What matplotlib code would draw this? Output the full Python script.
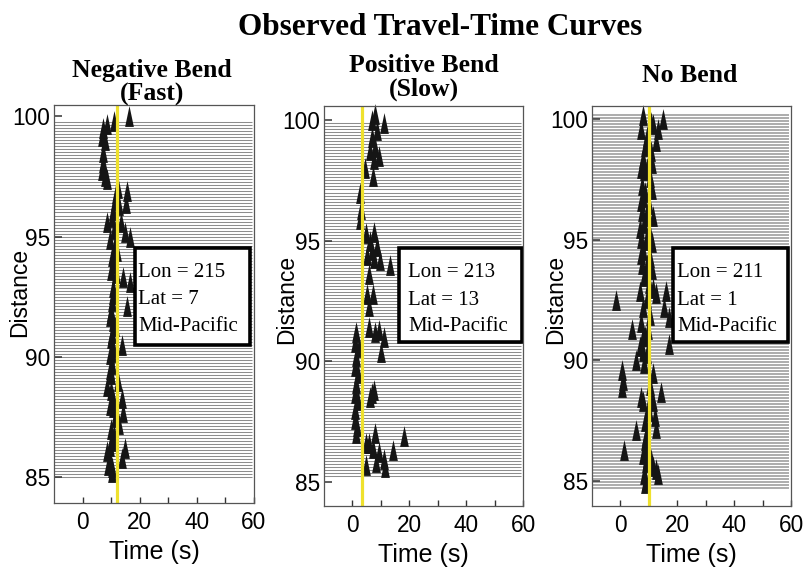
import numpy as np
import matplotlib
matplotlib.use("Agg")
import matplotlib.pyplot as plt
from matplotlib.patches import Rectangle

# ---- data -------------------------------------------------------------
panel_titles = ["Negative Bend\n(Fast)", "Positive Bend\n(Slow)", "No Bend"]
lons = [215, 213, 211]
lats = [7, 13, 1]
region = "Mid-Pacific"
ref_times = [12.0, 3.5, 10.0]          # predicted arrival (yellow line), s

# trace distance ranges (deg) and spacing
trace_lo = [85.0, 85.25, 84.7]
trace_hi = [99.8, 99.9, 100.3]
trace_step = 0.125

# observed picks: (time s, distance deg)
fast_t = [7.3, 8.5, 11.1, 16.4, 6.7, 7.9, 7.3, 6.7, 7.9, 8.5, 7.3, 12.3, 15.4, 15.1,
          11.4, 12.9, 10.8, 8.5, 10.2, 13.5, 14.9, 16.6, 9.6, 11.4, 10.2, 14.3, 16.6,
          10.8, 9.9, 15.4, 10.2, 9.6, 11.4, 10.2, 13.7, 9.6, 10.8, 10.2, 8.5, 13.7,
          10.8, 9.6, 11.4, 14.3, 12.6, 10.0, 8.5, 9.6, 14.9, 13.7, 10.2, 9.0, 10.8,
          12.3, 11.0, 10.5, 9.8, 10.6, 9.9, 10.4, 9.7, 10.1, 10.6, 9.8, 10.4, 9.7,
          10.3, 11.8, 11.0, 12.2, 10.9, 11.6]
fast_d = [99.5, 99.7, 99.8, 100.0, 99.2, 99.0, 98.5, 97.75, 97.5, 97.4, 98.1, 97.0,
          96.9, 96.4, 96.5, 96.3, 96.1, 95.6, 95.8, 95.6, 95.2, 95.0, 94.9, 94.7, 94.2,
          93.3, 93.1, 92.9, 93.6, 92.1, 92.3, 91.7, 91.3, 91.0, 90.5, 90.1, 90.4, 89.7,
          88.8, 88.3, 88.3, 88.0, 87.5, 87.7, 87.2, 89.3, 86.1, 85.7, 86.2, 85.8, 85.4,
          85.5, 86.5, 89.0, 86.8, 92.6, 91.9, 91.5, 90.8, 90.2, 89.5, 88.6, 87.9, 87.0,
          86.6, 86.3, 85.2, 96.8, 95.3, 94.4, 93.9, 93.5]

slow_t = [8.1, 11.0, 7.0, 8.7, 6.9, 8.1, 6.3, 9.2, 7.6, 7.1, 4.3, 2.6, 3.0, 2.6, 4.6,
          7.5, 6.3, 8.7, 6.9, 9.8, 13.1, 5.1, 7.5, 5.7, 7.3, 5.1, 5.7, 5.7, 8.1, 9.2,
          11.0, 10.0, 1.4, 1.0, 2.2, 1.2, 0.9, 1.8, 1.1, 0.8, 1.9, 1.0, 0.9, 1.6, 1.2,
          6.9, 7.5, 6.3, 8.1, 6.0, 4.8, 9.2, 7.3, 18.2, 14.1, 11.0, 8.4, 11.3, 4.6]
slow_d = [100.25, 99.9, 100.0, 99.6, 99.3, 98.9, 98.75, 98.5, 98.4, 97.7, 98.0, 97.0,
          96.3, 95.9, 95.3, 95.35, 95.0, 94.8, 94.6, 94.2, 94.0, 94.4, 94.3, 93.6, 92.8,
          92.8, 92.3, 91.4, 91.2, 91.3, 91.0, 90.4, 91.2, 90.8, 90.6, 90.2, 89.8, 89.5,
          89.1, 88.7, 88.4, 88.0, 87.6, 87.3, 87.0, 88.7, 88.8, 88.5, 87.0, 86.6, 86.6,
          86.25, 86.4, 86.9, 86.3, 85.95, 85.8, 85.6, 85.7]

none_t = [8.0, 7.4, 11.4, 13.2, 15.0, 12.6, 9.5, 8.5, 10.8, 7.8, 11.2, 8.2, 10.5, 7.5,
          11.0, 8.0, 10.2, 7.6, 11.3, 8.3, 10.0, 7.4, 11.0, 8.1, 10.4, 7.7, 11.1, 8.4,
          10.1, 11.4, 12.6, 16.1, 6.9, -1.6, 15.5, 17.2, 8.0, 10.3, 4.2, 7.2, 9.8, 8.1,
          17.2, 7.0, 9.5, 5.4, 8.2, 0.7, 0.9, 0.6, 11.5, 7.4, 7.9, 11.5, 14.4, 12.0,
          12.6, 10.0, 5.4, 8.5, 1.3, 7.9, 8.6, 9.0, 12.6, 13.2, 9.1, 11.4, 8.3, 10.5,
          9.0, 10.6, 9.0, 9.2, 8.8, 9.1, 8.9, 9.2, 9.0, 10.8, 7.3, 7.2, 7.0, 7.1, 9.5,
          8.5, 7.8, 9.6, 8.5, 9.4, 10.6, 8.7]
none_d = [100.2, 99.6, 99.8, 99.6, 100.0, 99.1, 99.3, 98.9, 98.7, 98.4, 98.2, 97.9,
          97.6, 97.3, 97.1, 96.8, 96.5, 96.2, 96.0, 95.7, 95.4, 95.1, 94.9, 94.6, 94.3,
          94.0, 93.8, 93.5, 93.2, 93.0, 92.8, 92.9, 92.9, 92.5, 92.2, 91.8, 92.2, 91.9,
          91.3, 91.6, 91.3, 91.0, 90.7, 90.6, 90.3, 90.0, 89.9, 89.6, 89.2, 88.9, 89.5,
          88.5, 88.3, 88.3, 88.7, 87.7, 87.2, 87.9, 87.1, 86.7, 86.3, 86.1, 86.4, 85.8,
          85.5, 85.3, 85.0, 85.6, 85.3, 89.0, 86.9, 88.6, 99.0, 98.0, 97.0, 96.0, 95.0,
          94.0, 93.6, 99.9, 98.0, 96.6, 95.5, 94.4, 92.6, 91.0, 90.4, 88.0, 87.5, 86.0,
          85.9, 84.9]

pick_times = [fast_t, slow_t, none_t]
pick_dists = [fast_d, slow_d, none_d]

# ---- styling ----------------------------------------------------------
SANS = "Liberation Sans"
SERIF = "Liberation Serif"
YELLOW = "#efe12d"
trace_colors = ["#8c8c8c", "#8c8c8c", "#9a9a9a"]
trace_widths = [0.75, 0.75, 1.15]
ylims = [(83.92, 100.47), (83.99, 100.59), (83.96, 100.56)]
# axes rectangles in pixels: left, top, right, bottom
W, H = 808, 569
axes_px = [(54, 105, 254, 503), (324, 106, 523, 506), (592, 106, 791, 506)]
box_px = [(134.7, 248.4, 250.0, 345.0), (398.5, 248.4, 521.5, 341.6),
          (672.7, 248.4, 788.3, 341.6)]
text_x_px = [138, 408, 677]
ylabel_px = [(31, 292), (298, 299), (567, 299)]
title_x_px = [152, 424, 690]
title_base_px = [76.5, 71.5, 81.5]

# tall, narrow upward triangle used for picks
tri = [(-0.42, -1.0), (0.42, -1.0), (0.0, 1.0), (-0.42, -1.0)]

fig = plt.figure(figsize=(W / 100, H / 100), dpi=100)

fig.text(440 / W, 1 - 35 / H, "Observed Travel-Time Curves", ha="center",
         va="baseline", family=SERIF, weight="bold", fontsize=22.5)

for i in range(3):
    l, t, r, b = axes_px[i]
    ax = fig.add_axes([l / W, 1 - b / H, (r - l) / W, (b - t) / H])
    ax.set_xlim(-10, 60)
    ax.set_ylim(*ylims[i])

    dists = np.arange(trace_lo[i], trace_hi[i] + 1e-6, trace_step)
    ax.hlines(dists, -10, 59.2, color=trace_colors[i], lw=trace_widths[i], zorder=1)

    ax.plot(pick_times[i], pick_dists[i], ls="none", marker=tri, ms=15,
            mfc="#151515", mec="none", zorder=3, clip_on=False)
    ax.axvline(ref_times[i], color=YELLOW, lw=2.3, zorder=4)

    # info box
    bx0, by0, bx1, by1 = box_px[i]
    ax.add_patch(Rectangle(((bx0 - l) / (r - l), 1 - (by1 - t) / (b - t)),
                           (bx1 - bx0) / (r - l), (by1 - by0) / (b - t),
                           transform=ax.transAxes, fc="white", ec="black",
                           lw=2.6, zorder=5))
    lines = [f"Lon = {lons[i]}", f"Lat = {lats[i]}", region]
    for k, (s, yb) in enumerate(zip(lines, [277, 304.5, 331])):
        ax.text((text_x_px[i] - l) / (r - l), 1 - (yb - t) / (b - t), s,
                transform=ax.transAxes, ha="left", va="baseline",
                family=SERIF, fontsize=15, zorder=6)

    ax.set_xticks([0, 20, 40, 60])
    ax.set_xticks([10, 30, 50], minor=True)
    ax.set_yticks([85, 90, 95, 100])
    ax.tick_params(axis="x", which="both", direction="in", length=4.5, width=1,
                   color="#333333", labelsize=16.3, pad=6)
    ax.tick_params(axis="y", direction="in", length=6, width=1.1,
                   color="#333333", labelsize=16.3, pad=3)
    for lab in ax.get_xticklabels() + ax.get_yticklabels():
        lab.set_family(SANS)
    for sp in ax.spines.values():
        sp.set_color("#555555")
        sp.set_linewidth(0.9)
        sp.set_zorder(7)
    ax.set_xlabel("Time (s)", family=SANS, fontsize=18, labelpad=4)
    ax.set_ylabel("Distance", family=SANS, fontsize=16.5)
    lx, ly = ylabel_px[i]
    ax.yaxis.set_label_coords((lx - l) / (r - l), 1 - (ly - t) / (b - t))

    # panel heading
    head = panel_titles[i].split("\n")
    for k, s in enumerate(head):
        fig.text(title_x_px[i] / W, 1 - (title_base_px[i] + 24.5 * k) / H, s,
                 ha="center", va="baseline", family=SERIF, weight="bold",
                 fontsize=18.5)

fig.savefig("out.png", dpi=100)
